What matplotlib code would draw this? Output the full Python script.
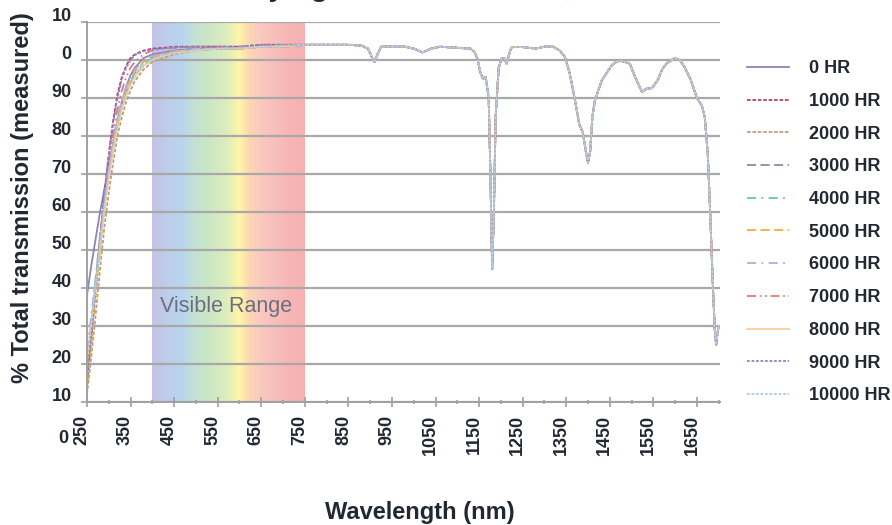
import numpy as np
import matplotlib
matplotlib.use("Agg")
from matplotlib import pyplot as plt
from matplotlib import transforms
from matplotlib.colors import LinearSegmentedColormap

plt.rcParams['font.family'] = ['Liberation Sans', 'DejaVu Sans']

# wavelengths (nm) of the UV/visible rise, one value list per ageing time
wl_rise = [250, 260, 270, 280, 290, 300, 310, 320, 330, 340, 350, 360, 380,
           400, 425, 450, 500, 550, 600, 650, 700, 750]
t0 = [38, 46, 53, 60, 66, 72, 78, 84, 89, 93, 96, 98, 100.5, 101.5, 102, 102.5, 103, 103, 103, 103.5, 103.5, 104]
t1000 = [14, 27, 40, 53, 65, 75, 84, 91, 95.5, 98.5, 100.5, 101.5, 102.5, 103, 103.2, 103.5, 103.5, 103.5, 103.5, 104, 104, 104]
t2000 = [12, 22, 33, 45, 56, 65, 73, 80, 85, 89, 92, 94.5, 97.5, 99.5, 100.5, 101.5, 102.5, 103, 103, 103.5, 103.5, 104]
t3000 = [20, 30, 41, 52, 62, 70, 77, 83, 88, 91.5, 94, 96, 98.5, 100, 101, 102, 102.5, 103, 103, 103.5, 103.5, 104]
t4000 = [22, 31, 42, 53, 63, 71, 78, 84, 88.5, 92, 94.5, 96.5, 99, 100.5, 101.5, 102, 102.5, 103, 103, 103.5, 103.5, 104]
t5000 = [15, 26, 38, 50, 61, 70, 78, 84, 89, 92.5, 95, 97, 99.5, 100.8, 101.5, 102.2, 103, 103, 103.2, 103.5, 103.8, 104]
t6000 = [24, 33, 43, 54, 64, 72, 79, 85, 89.5, 93, 95.5, 97.5, 99.8, 101, 101.8, 102.3, 103, 103, 103.2, 103.5, 103.8, 104]
t7000 = [18, 29, 41, 53, 64, 73, 81, 87, 92, 95.5, 98, 99.5, 101.5, 102.5, 103, 103.2, 103.5, 103.5, 103.5, 104, 104, 104]
t8000 = [20, 30, 40, 51, 61, 69, 76, 82, 87, 90.5, 93.5, 95.5, 98.5, 100, 101, 101.8, 102.5, 103, 103, 103.5, 103.5, 104]
t9000 = [16, 28, 40, 53, 65, 75, 83.5, 90, 95, 98, 100, 101.3, 102.3, 102.8, 103, 103.3, 103.5, 103.5, 103.5, 104, 104, 104]
t10000 = [22, 31, 41, 52, 62, 70.5, 77.5, 83.5, 88, 91.5, 94, 96, 98.8, 100.2, 101.2, 102, 102.8, 103, 103.2, 103.5, 103.8, 104]

# near-IR part, the same for all samples
wl_tail = [800, 850, 880, 895, 905, 910, 915, 925, 950, 980, 1000, 1020, 1040, 1060, 1100,
           1130, 1140, 1147, 1152, 1159, 1165, 1172, 1176, 1180, 1184, 1188, 1195, 1202, 1208,
           1213, 1220, 1225, 1250, 1280, 1300, 1320, 1335, 1347, 1358, 1370, 1380, 1388, 1395,
           1400, 1405, 1410, 1416, 1432, 1455, 1465, 1473, 1485, 1496, 1510, 1524, 1535, 1547,
           1560, 1570, 1581, 1600, 1612, 1622, 1635, 1650, 1661, 1668, 1675, 1680, 1687, 1691,
           1694, 1697, 1700]
t_tail = [104, 104, 103.8, 103, 100.5, 99.5, 101, 103.5, 103.5, 103.5, 103, 102, 103, 103.5, 103.2,
          103, 102, 100, 97, 95, 95.5, 90, 70, 45, 60, 85, 98, 100.5, 100.5,
          99, 102, 103.4, 103.4, 103, 103.5, 103.5, 102.5, 100.8, 96.5, 89.5, 83, 81, 76,
          73, 76, 85, 89.5, 94.7, 98.7, 99.5, 99.8, 99.5, 99, 95, 91.6, 92.5, 92.6,
          94.7, 97.5, 99.2, 100.5, 99.8, 98, 95, 90, 88, 85, 75, 61, 39.5, 29,
          25, 28, 30]

labels = ['0 HR', '1000 HR', '2000 HR', '3000 HR', '4000 HR', '5000 HR',
          '6000 HR', '7000 HR', '8000 HR', '9000 HR', '10000 HR']
rises = [t0, t1000, t2000, t3000, t4000, t5000, t6000, t7000, t8000, t9000, t10000]
colors = ['#8a86b8', '#b8406a', '#b4a474', '#8c88a8', '#5cc8c0', '#f0b030',
          '#b4acd8', '#e87878', '#f8cca0', '#8484d0', '#a8cce8']
styles = ['-', (0, (2, 1)), (0, (2, 1)), (0, (5, 2.5)), (0, (5, 3, 1, 3)), (0, (5, 2.5)),
          (0, (5, 3, 1, 3)), (0, (5, 2, 1, 2, 1, 2)), '-', (0, (1.5, 1)), (0, (1.5, 1))]

vis_wl = [400, 440, 470, 495, 520, 570, 600, 620, 650, 700, 750]
vis_col = ['#c6c3e3', '#bccfec', '#b8d5ef', '#c4e0d6', '#c9e5c6', '#dcedbe', '#fff6a6',
           '#fdd9b2', '#f9c8c0', '#f7b9b8', '#f6b0b0']

txt = '#222831'

fig = plt.figure(figsize=(8.92, 5.25), dpi=100)
ax = fig.add_axes([0.0975, 0.2343, 0.7097, 0.7238])

# visible band gradient
pos = [(w - vis_wl[0]) / (vis_wl[-1] - vis_wl[0]) for w in vis_wl]
cmap = LinearSegmentedColormap.from_list('vis', list(zip(pos, vis_col)))
ax.imshow(np.linspace(0, 1, 256)[None, :], cmap=cmap, aspect='auto',
          extent=[vis_wl[0], vis_wl[-1], 10, 110], zorder=0.2, interpolation='bilinear')
ax.text(417, 35, 'Visible Range', fontsize=15.5, color='#6c6e80', va='center', ha='left')

for lab, rise, col, ls in zip(labels, rises, colors, styles):
    x = np.array(wl_rise + wl_tail)
    y = np.array(rise + t_tail)
    ax.plot(x, y, color=col, ls=ls, lw=1.3, label=lab, zorder=2)

ax.set_xlim(250, 1703)
ax.set_ylim(10, 110)
ax.set_xticks(np.arange(250, 1651, 100))
ax.set_xticks(np.arange(300, 1701, 100), minor=True)
ax.set_yticks(np.arange(10, 111, 10))
ax.set_yticklabels(['10', '20', '30', '40', '50', '60', '70', '80', '90', '0', '10'])
ax.set_axisbelow(True)
ax.yaxis.grid(True, color='#a8a8a8', lw=1.6)
for s in ['top', 'right']:
    ax.spines[s].set_visible(False)
for s in ['left', 'bottom']:
    ax.spines[s].set_color('#a0a0a0')
    ax.spines[s].set_linewidth(1.4)

ax.tick_params(axis='x', which='major', direction='inout', length=7, width=1.2,
               color='#a0a0a0', pad=6, labelsize=13, labelcolor=txt, labelrotation=90)
ax.tick_params(axis='x', which='minor', direction='inout', length=3.5, width=1.2, color='#a0a0a0')
ax.tick_params(axis='y', direction='out', length=4, width=1.2, color='#a0a0a0',
               pad=7, labelsize=13, labelcolor=txt)
for t in ax.get_xticklabels():
    t.set_fontweight('bold')
    t.set_transform(t.get_transform() + transforms.ScaledTranslation(-0.05, 0, fig.dpi_scale_trans))
for t in ax.get_yticklabels():
    t.set_fontweight('bold')
    t.set_transform(t.get_transform() + transforms.ScaledTranslation(0, 0.07, fig.dpi_scale_trans))

# the lone "0" under the axis
ax.text(0, 0.5, '0', fontsize=13, fontweight='bold', color=txt, ha='right', va='center',
        transform=transforms.blended_transform_factory(ax.transAxes, ax.transData)
        + transforms.ScaledTranslation(-0.19, 0, fig.dpi_scale_trans), clip_on=False)

fig.text(0.025, 0.623, '% Total transmission (measured)', rotation=90, fontsize=17,
         fontweight='bold', color=txt, ha='center', va='center')
fig.text(0.471, 1 - 512 / 525, 'Wavelength (nm)', fontsize=17, fontweight='bold',
         color=txt, ha='center', va='center')
# title sits above the top edge, only its descenders show (as in the source image)
fig.text(0.5, 1 + 4 / 525, 'Drying Oven Test Data @ 85\u00b0C', fontsize=21,
         fontweight='bold', color=txt, ha='center', va='baseline')

fig.legend(loc='upper left', bbox_to_anchor=(740 / 892, 1 - 53 / 525), frameon=False,
           prop={'size': 13, 'weight': 'bold'}, labelcolor=txt, handlelength=2.3,
           handletextpad=1.1, labelspacing=0.87, borderaxespad=0)

fig.savefig('out.png', dpi=100)
